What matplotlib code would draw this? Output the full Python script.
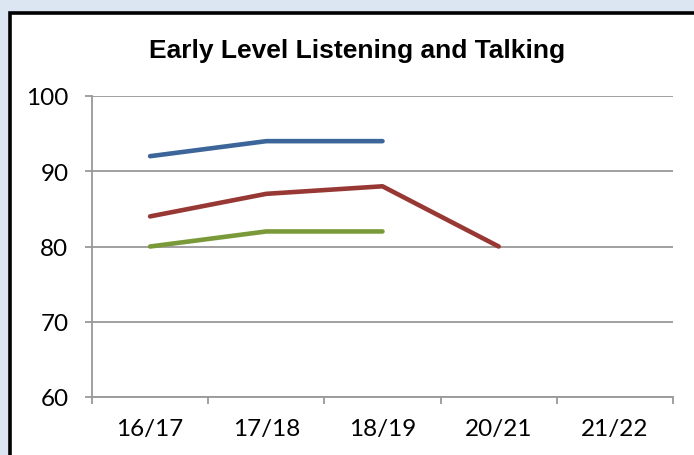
import matplotlib
matplotlib.use("Agg")
import matplotlib.pyplot as plt
from matplotlib.patches import Rectangle

# values
years = ["16/17", "17/18", "18/19", "20/21", "21/22"]
blue_vals = [92, 94, 94]
red_vals = [84, 87, 88, 80]
green_vals = [80, 82, 82]

fig = plt.figure(figsize=(6.94, 4.56), dpi=100)
fig.patch.set_facecolor("#dce6f2")

# white chart box with thick black border, runs off the right/bottom edge
box = Rectangle((10 / 694, -0.1), 1.1, 1 - 13.5 / 456 + 0.1, transform=fig.transFigure,
                facecolor="white", edgecolor="black", linewidth=2.6, zorder=-5)
fig.patches.append(box)

ax = fig.add_axes([92 / 694, 1 - 398 / 456, (673 - 92) / 694, (398 - 97) / 456])
ax.set_facecolor("none")
ax.set_zorder(2)

x = [i + 0.5 for i in range(len(years))]
lw = 3.3
ax.plot(x[:3], blue_vals, color="#3c6699", lw=lw, solid_capstyle="round", solid_joinstyle="round")
ax.plot(x[:4], red_vals, color="#983835", lw=lw, solid_capstyle="round", solid_joinstyle="round")
ax.plot(x[:3], green_vals, color="#7a9a3a", lw=lw, solid_capstyle="round", solid_joinstyle="round")

ax.set_xlim(0, len(years))
ax.set_ylim(60, 100)
ax.set_yticks([60, 70, 80, 90, 100])
ax.set_xticks(range(len(years) + 1))
ax.set_xticklabels([])
ax.set_xticks(x, minor=True)
ax.set_xticklabels(years, minor=True)
ax.tick_params(axis="x", which="minor", length=0, pad=15)
ax.tick_params(axis="x", which="major", length=5, color="#999999", width=1.3)
ax.tick_params(axis="y", length=5, color="#999999", width=1.3, pad=12)
ax.yaxis.grid(True, color="#999999", lw=1.3)
ax.set_axisbelow(True)

for lab in ax.get_yticklabels() + ax.get_xticklabels(minor=True):
    lab.set_fontfamily("Lato")
    lab.set_fontsize(17.5)

for s in ["top", "right"]:
    ax.spines[s].set_visible(False)
for s in ["left", "bottom"]:
    ax.spines[s].set_color("#999999")
    ax.spines[s].set_linewidth(1.3)

fig.text(357 / 694, 1 - 51 / 456, "Early Level Listening and Talking",
         ha="center", va="center", fontsize=19, fontweight="bold",
         family="Liberation Sans")

fig.savefig("out.png", dpi=100, facecolor=fig.get_facecolor())
